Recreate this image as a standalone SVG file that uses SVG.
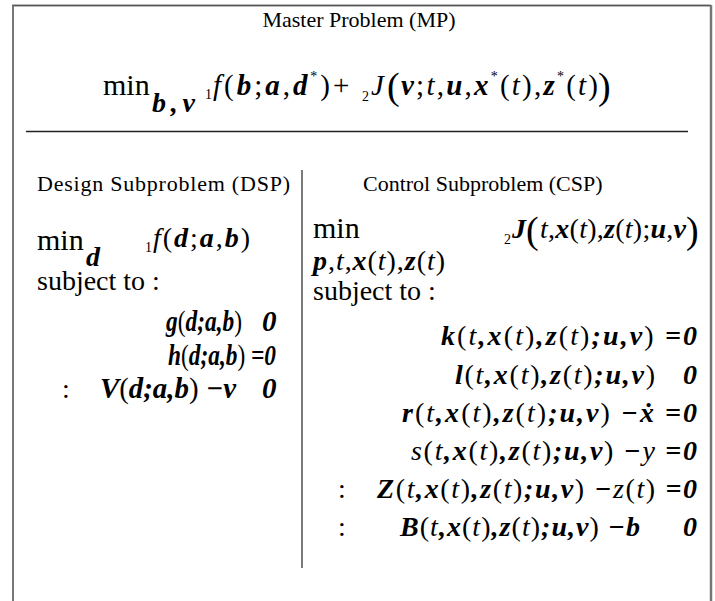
<svg xmlns="http://www.w3.org/2000/svg" width="715" height="601" viewBox="0 0 715 601" font-family="'Liberation Serif','Times New Roman',serif">
<style>
text{font-family:"Liberation Serif","Times New Roman",serif;fill:#000}
.t{font-size:22px}
.m{font-size:28px}
.mf{font-size:29px}
.mn{font-size:30px}
.s{font-size:14px}
.i{font-style:italic}
.bi{font-style:italic;font-weight:bold}
.n{font-style:normal;font-weight:normal}
.ni{font-style:italic;font-weight:normal}
.bp{font-size:38px}
</style>
<rect width="715" height="601" fill="#fff"/>
<g id="frame">
<path d="M13 601V5.5H711" fill="none" stroke="#777" stroke-width="2"/>
<path d="M13 5.5H711" fill="none" stroke="#555" stroke-width="1.2"/>
<path d="M711 5V601" fill="none" stroke="#777" stroke-width="2.5"/>
</g>
<g id="connectors">
<line x1="26" y1="131.5" x2="688" y2="131.5" stroke="#222" stroke-width="1.5"/>
<line x1="302" y1="170" x2="302" y2="568" stroke="#222" stroke-width="1.2"/>
</g>
<g id="mp">
<text class="t" x="359" y="27" text-anchor="middle">Master Problem (MP)</text>
<text class="mn" x="103" y="95">min</text>
<text class="m bi" x="152" y="112" textLength="43">b,v</text>
<text class="s" x="205" y="99">1</text>
<text class="mf" x="213" y="95" textLength="117"><tspan class="i">f</tspan>(<tspan class="bi">b</tspan>;<tspan class="bi">a</tspan>,<tspan class="bi">d</tspan><tspan class="s" dy="-14">*</tspan><tspan dy="14">)</tspan></text>
<text class="mf" x="333" y="95">+</text>
<text class="s" x="362" y="101">2</text>
<text class="mf i" x="371" y="95">J</text>
<text class="bp" x="387" y="99">(</text>
<text class="mf" x="401" y="95" textLength="197"><tspan class="bi">v</tspan>;<tspan class="i">t</tspan>,<tspan class="bi">u</tspan>,<tspan class="bi">x</tspan><tspan class="s" dy="-14">*</tspan><tspan dy="14">(</tspan><tspan class="i">t</tspan>),<tspan class="bi">z</tspan><tspan class="s" dy="-14">*</tspan><tspan dy="14">(</tspan><tspan class="i">t</tspan>)</text>
<text class="bp" x="598" y="99">)</text>
</g>
<g id="dsp">
<text class="t" x="37" y="191" textLength="253">Design Subproblem (DSP)</text>
<text class="mn" x="37" y="250">min</text>
<text class="m bi" x="86" y="266">d</text>
<text class="s" x="145" y="252">1</text>
<text class="m" x="153" y="247" textLength="97"><tspan class="i">f</tspan>(<tspan class="bi">d</tspan>;<tspan class="bi">a</tspan>,<tspan class="bi">b</tspan>)</text>
<text class="m" x="37" y="290">subject to :</text>
<text class="mf bi" x="166" y="331" textLength="76" lengthAdjust="spacingAndGlyphs">g<tspan class="n">(</tspan>d;a,b<tspan class="n">)</tspan></text>
<text class="mf bi" x="262" y="331">0</text>
<text class="mf bi" x="168" y="365" textLength="108" lengthAdjust="spacingAndGlyphs">h<tspan class="n">(</tspan>d;a,b<tspan class="n">)</tspan> =0</text>
<text class="m" x="62" y="398">:</text>
<text class="mf bi" x="100" y="398" textLength="136" lengthAdjust="spacingAndGlyphs">V<tspan class="n">(</tspan>d;a,b<tspan class="n">)</tspan> −v</text>
<text class="mf bi" x="262" y="398">0</text>
</g>
<g id="csp">
<text class="t" x="363" y="191">Control Subproblem (CSP)</text>
<text class="mn" x="313" y="238">min</text>
<text class="s" x="504" y="244">2</text>
<text class="m bi" x="512" y="238">J</text>
<text class="bp" x="526" y="243">(</text>
<text class="m" x="540" y="238" textLength="146"><tspan class="i">t</tspan>,<tspan class="bi">x</tspan>(<tspan class="i">t</tspan>),<tspan class="bi">z</tspan>(<tspan class="i">t</tspan>);<tspan class="bi">u</tspan>,<tspan class="bi">v</tspan></text>
<text class="bp" x="686" y="243">)</text>
<text class="m" x="313" y="270" textLength="132"><tspan class="bi">p</tspan>,<tspan class="i">t</tspan>,<tspan class="bi">x</tspan>(<tspan class="i">t</tspan>),<tspan class="bi">z</tspan>(<tspan class="i">t</tspan>)</text>
<text class="m" x="313" y="300">subject to :</text>
<text class="m bi" x="441" y="345" textLength="256">k<tspan class="n">(</tspan><tspan class="ni">t</tspan>,x<tspan class="n">(</tspan><tspan class="ni">t</tspan><tspan class="n">)</tspan>,z<tspan class="n">(</tspan><tspan class="ni">t</tspan><tspan class="n">)</tspan>;u,v<tspan class="n">)</tspan> =0</text>
<text class="m bi" x="455" y="384" textLength="200">l<tspan class="n">(</tspan><tspan class="ni">t</tspan>,x<tspan class="n">(</tspan><tspan class="ni">t</tspan><tspan class="n">)</tspan>,z<tspan class="n">(</tspan><tspan class="ni">t</tspan><tspan class="n">)</tspan>;u,v<tspan class="n">)</tspan></text>
<text class="m bi" x="683" y="384">0</text>
<text class="m bi" x="402" y="422" textLength="295">r<tspan class="n">(</tspan><tspan class="ni">t</tspan>,x<tspan class="n">(</tspan><tspan class="ni">t</tspan><tspan class="n">)</tspan>,z<tspan class="n">(</tspan><tspan class="ni">t</tspan><tspan class="n">)</tspan>;u,v<tspan class="n">)</tspan> −ẋ =0</text>
<text class="m bi" x="411" y="460" textLength="286"><tspan class="ni">s</tspan><tspan class="n">(</tspan><tspan class="ni">t</tspan>,x<tspan class="n">(</tspan><tspan class="ni">t</tspan><tspan class="n">)</tspan>,z<tspan class="n">(</tspan><tspan class="ni">t</tspan><tspan class="n">)</tspan>;u,v<tspan class="n">)</tspan> −<tspan class="ni">y</tspan> =0</text>
<text class="m" x="338" y="498">:</text>
<text class="m bi" x="377" y="498" textLength="320">Z<tspan class="n">(</tspan><tspan class="ni">t</tspan>,x<tspan class="n">(</tspan><tspan class="ni">t</tspan><tspan class="n">)</tspan>,z<tspan class="n">(</tspan><tspan class="ni">t</tspan><tspan class="n">)</tspan>;u,v<tspan class="n">)</tspan> −<tspan class="ni">z</tspan><tspan class="n">(</tspan><tspan class="ni">t</tspan><tspan class="n">)</tspan> =0</text>
<text class="m" x="338" y="536">:</text>
<text class="m bi" x="400" y="536" textLength="240">B<tspan class="n">(</tspan><tspan class="ni">t</tspan>,x<tspan class="n">(</tspan><tspan class="ni">t</tspan><tspan class="n">)</tspan>,z<tspan class="n">(</tspan><tspan class="ni">t</tspan><tspan class="n">)</tspan>;u,v<tspan class="n">)</tspan> −b</text>
<text class="m bi" x="683" y="536">0</text>
</g>
</svg>
